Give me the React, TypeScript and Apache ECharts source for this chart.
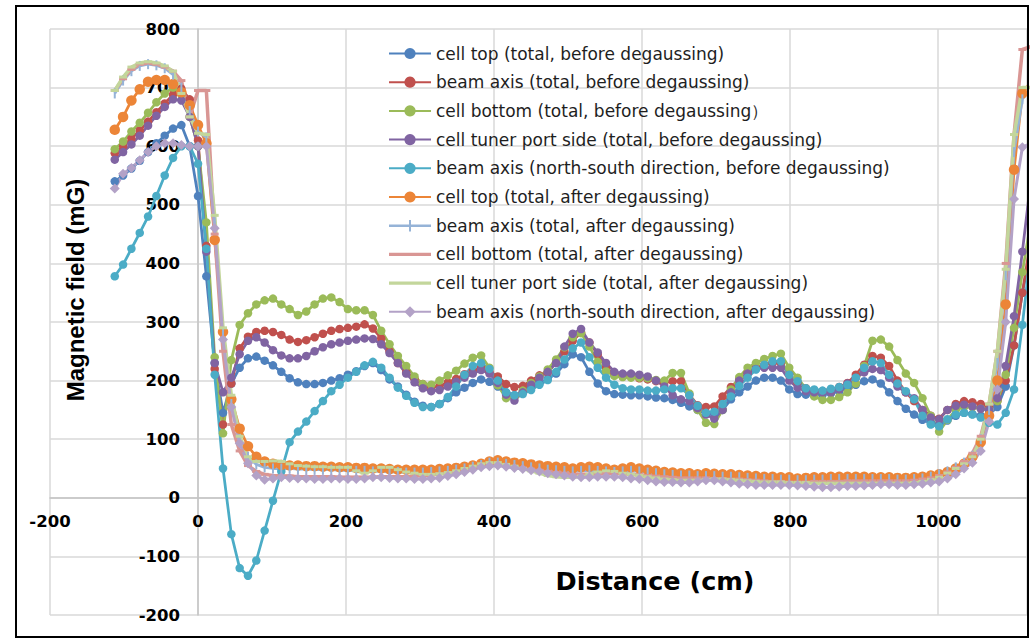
import React, { useEffect, useRef } from 'react';
import * as echarts from 'echarts';

// Distance along the cavity (cm)
const distance = [
  -112.5, -101.25, -90, -78.75, -67.5, -56.25, -45, -33.75, -22.5, -11.25,
  0, 11.25, 22.5, 33.75, 45, 56.25, 67.5, 78.75, 90, 101.25,
  112.5, 123.75, 135, 146.25, 157.5, 168.75, 180, 191.25, 202.5, 213.75,
  225, 236.25, 247.5, 258.75, 270, 281.25, 292.5, 303.75, 315, 326.25,
  337.5, 348.75, 360, 371.25, 382.5, 393.75, 405, 416.25, 427.5, 438.75,
  450, 461.25, 472.5, 483.75, 495, 506.25, 517.5, 528.75, 540, 551.25,
  562.5, 573.75, 585, 596.25, 607.5, 618.75, 630, 641.25, 652.5, 663.75,
  675, 686.25, 697.5, 708.75, 720, 731.25, 742.5, 753.75, 765, 776.25,
  787.5, 798.75, 810, 821.25, 832.5, 843.75, 855, 866.25, 877.5, 888.75,
  900, 911.25, 922.5, 933.75, 945, 956.25, 967.5, 978.75, 990, 1001.25,
  1012.5, 1023.75, 1035, 1046.25, 1057.5, 1068.75, 1080, 1091.25, 1102.5, 1113.75, 1125,
];

const cellTopBefore = [
  540, 550, 562, 575, 590, 605, 618, 630, 636, 600,
  515, 378, 230, 145, 195, 222, 238, 241, 234, 226,
  215, 204, 197, 194, 194, 196, 200, 204, 210, 216,
  225, 230, 218, 202, 190, 176, 164, 157, 155, 160,
  170, 180, 188, 196, 202, 198, 190, 180, 175, 180,
  188, 195, 203, 212, 228, 245, 240, 215, 195, 182,
  177, 176, 175, 175, 173, 171, 170, 167, 162, 156,
  150, 145, 143, 150, 168, 180, 190, 200, 205, 205,
  200, 185, 177, 176, 175, 176, 178, 182, 188, 193,
  199, 202, 195, 180, 165, 152, 142, 133, 128, 125,
  132, 140, 145, 143, 140, 142, 155, 190, 260, 350, 420,
];

const beamAxisBefore = [
  588, 600, 613, 627, 642, 658, 673, 688, 698, 680,
  610, 430, 220, 125, 195, 255, 275, 283, 285, 283,
  278, 270, 266, 269, 274, 280, 285, 288, 290, 292,
  296, 289, 272, 250, 230, 214, 203, 194, 189, 190,
  197, 203, 211, 218, 222, 215, 207, 194, 189, 191,
  200, 209, 214, 231, 250, 268, 282, 265, 245, 222,
  210, 207, 207, 204, 202, 199, 197, 199, 199, 176,
  158, 155, 156, 173, 189, 202, 213, 222, 227, 230,
  230, 210, 196, 187, 182, 182, 184, 189, 196, 210,
  227, 242, 239, 225, 200, 180, 165, 150, 140, 135,
  150, 160, 165, 163, 160, 155, 165, 200, 260, 350, 440,
];

const cellBottomBefore = [
  595, 608, 625, 640, 657, 675, 690, 700, 688, 650,
  600, 470, 240, 110, 235, 295, 315, 330, 337, 340,
  330, 322, 312, 318, 330, 340, 342, 334, 322, 320,
  320, 312, 285, 262, 242, 225, 207, 194, 193, 200,
  209, 217, 229, 239, 243, 222, 192, 170, 172, 183,
  196, 207, 219, 236, 257, 274, 281, 258, 232, 216,
  208, 206, 205, 205, 204, 201, 200, 213, 213, 178,
  150, 128, 126, 150, 185, 206, 222, 230, 237, 242,
  246, 222, 205, 186, 173, 167, 167, 172, 180, 195,
  225, 268, 270, 258, 235, 212, 196, 170, 140, 113,
  133, 150, 155, 155, 152, 150, 165, 210, 290, 385, 470,
];

const tunerSideBefore = [
  577, 590, 603, 618, 635, 652, 667, 680, 678, 650,
  600, 420, 230, 180, 205, 245, 268, 274, 265, 252,
  243, 238, 238, 242, 250, 257, 262, 265, 268, 270,
  272, 271, 262, 247, 230, 212, 197, 187, 182, 184,
  190, 198, 205, 212, 218, 212, 196, 176, 166, 180,
  193, 205, 215, 230, 258, 280, 288, 265, 248, 230,
  215, 212, 212, 210, 207, 200, 190, 175, 168, 165,
  153, 142, 135, 150, 180, 200, 212, 220, 222, 222,
  222, 200, 188, 182, 180, 180, 180, 185, 195, 205,
  214, 220, 218, 205, 190, 180, 170, 150, 137, 134,
  150, 157, 159, 156, 152, 150, 170, 225, 310, 420, 540,
];

const northSouthBefore = [
  378, 398, 425, 452, 480, 515, 550, 580, 600, 600,
  570, 425, 210, 50, -62, -120, -133, -107, -56, -5,
  45, 95, 113, 130, 148, 165, 182, 193, 205, 215,
  226, 232, 222, 205, 188, 174, 162, 155, 155, 160,
  172, 190, 210, 225, 230, 220, 200, 180, 175, 177,
  184, 193, 201, 215, 236, 255, 265, 240, 222, 205,
  193, 187, 185, 185, 183, 183, 185, 187, 187, 175,
  157, 145, 147, 160, 173, 191, 205, 219, 227, 233,
  233, 210, 199, 187, 185, 183, 186, 189, 193, 205,
  222, 233, 230, 210, 195, 182, 168, 140, 125, 122,
  134, 142, 145, 142, 137, 128, 125, 145, 185, 295, 420,
];

const cellTopAfter = [
  628, 650, 678, 697, 710, 713, 713, 706, 692, 670,
  636, 605, 440, 283, 168, 118, 88, 70, 62, 58,
  56, 55, 55, 54, 54, 53, 53, 52, 52, 51,
  51, 50, 50, 49, 48, 48, 48, 48, 48, 49,
  50, 51, 53, 55, 58, 62, 64, 62, 60, 59,
  57, 55, 54, 53, 52, 50, 52, 53, 52, 50,
  48, 50, 52, 50, 48, 46, 44, 43, 42, 42,
  40, 42, 41, 40, 40, 39, 38, 37, 36, 36,
  35, 35, 33, 34, 35, 35, 36, 36, 36, 36,
  36, 35, 35, 35, 34, 34, 35, 36, 38, 40,
  44, 50, 58, 70, 95, 140, 200, 330, 560, 690, 710,
];

const beamAxisAfter = [
  690, 712, 728, 737, 740, 738, 733, 722, 700, 660,
  625, 615, 470, 280, 160, 100, 70, 57, 52, 50,
  50, 50, 49, 49, 48, 48, 48, 47, 47, 46,
  46, 45, 45, 44, 44, 43, 43, 43, 44, 45,
  46, 48, 50, 53, 56, 60, 60, 58, 56, 54,
  52, 50, 48, 47, 46, 45, 46, 47, 46, 45,
  44, 45, 46, 45, 43, 42, 40, 39, 38, 38,
  37, 37, 37, 36, 36, 35, 34, 33, 32, 32,
  31, 31, 30, 30, 31, 31, 32, 32, 32, 32,
  32, 32, 32, 32, 31, 31, 32, 33, 36, 40,
  45, 52, 60, 72, 100, 150, 230, 380, 590, 680, 700,
];

const cellBottomAfter = [
  695, 715, 731, 740, 742, 740, 735, 728, 712, 650,
  695, 695, 450, 250, 125, 80, 55, 45, 40, 38,
  37, 37, 36, 36, 36, 36, 36, 35, 35, 35,
  35, 35, 36, 36, 36, 36, 37, 38, 39, 41,
  43, 45, 48, 52, 56, 58, 57, 55, 53, 51,
  49, 47, 45, 43, 42, 40, 40, 40, 41, 42,
  42, 41, 40, 39, 38, 37, 36, 35, 34, 34,
  34, 34, 33, 33, 32, 32, 31, 30, 29, 28,
  28, 27, 27, 27, 28, 28, 28, 28, 29, 29,
  29, 29, 29, 29, 29, 29, 30, 32, 34, 38,
  44, 52, 62, 76, 105, 160, 250, 400, 620, 765, 770,
];

const tunerSideAfter = [
  695, 718, 735, 742, 744, 742, 737, 728, 690, 650,
  622, 620, 482, 290, 175, 105, 70, 62, 62, 63,
  62, 58, 55, 54, 53, 53, 52, 52, 52, 46,
  42, 46, 52, 52, 48, 44, 42, 40, 40, 41,
  43, 46, 50, 54, 58, 60, 60, 57, 54, 50,
  46, 42, 38, 36, 35, 35, 37, 40, 44, 46,
  45, 42, 40, 38, 36, 34, 32, 31, 30, 30,
  30, 31, 32, 32, 31, 30, 29, 28, 27, 27,
  27, 26, 26, 26, 25, 25, 25, 25, 25, 25,
  25, 25, 25, 25, 25, 25, 26, 28, 31, 35,
  42, 50, 58, 70, 100, 160, 250, 390, 620, 700, 700,
];

const northSouthAfter = [
  528, 553, 563, 576, 590, 600, 605, 605, 602, 600,
  600, 600, 460, 270, 155, 93, 59, 38, 31, 33,
  35, 34, 33, 33, 32, 32, 33, 33, 32, 32,
  33, 35, 35, 34, 33, 33, 32, 32, 33, 34,
  37, 40, 44, 48, 52, 54, 55, 53, 51, 49,
  47, 45, 42, 40, 38, 36, 35, 35, 36, 36,
  36, 35, 33, 32, 30, 28, 27, 27, 26, 26,
  28, 30, 30, 28, 26, 24, 23, 22, 22, 22,
  22, 22, 21, 20, 19, 18, 18, 19, 20, 20,
  21, 22, 23, 23, 22, 22, 23, 24, 26, 28,
  33, 40, 50, 60, 80, 130, 185, 300, 510, 598, 605,
];

const seriesNames = [
  'cell top (total, before degaussing)',
  'beam axis (total, before degaussing)',
  'cell bottom (total, before degaussing\uFF09',
  'cell tuner port side (total, before degaussing)',
  'beam axis (north-south direction, before degaussing)',
  'cell top (total, after degaussing)',
  'beam axis (total, after degaussing)',
  'cell bottom (total, after degaussing)',
  'cell tuner port side (total, after degaussing)',
  'beam axis (north-south direction, after degaussing)',
];

const xTitle = 'Distance (cm)';
const yTitle = 'Magnetic field (mG)';

export default function App() {
  const ref = useRef<HTMLDivElement>(null);

  useEffect(() => {
    if (!ref.current) return;
    const chart = echarts.init(ref.current, null, { renderer: 'svg' });
    const wide = '"DejaVu Sans", Verdana, sans-serif';
    const arial = 'Arial, "Liberation Sans", sans-serif';
    const pair = (ys: number[]) => distance.map((x, i) => [x, ys[i]]);

    const mk = (
      name: string,
      ys: number[],
      color: string,
      symbol: string,
      symbolSize: number | number[],
      width: number
    ) => ({
      type: 'line',
      name,
      data: pair(ys),
      symbol,
      symbolSize,
      showSymbol: true,
      lineStyle: { color, width },
      itemStyle: { color, borderWidth: 0 },
      emphasis: { disabled: true },
      clip: true,
    });

    const series = [
      mk(seriesNames[0], cellTopBefore, '#4F81BD', 'circle', 8.5, 2.75),
      mk(seriesNames[1], beamAxisBefore, '#C0504D', 'circle', 8.5, 2.75),
      mk(seriesNames[2], cellBottomBefore, '#9BBB59', 'circle', 8.5, 2.75),
      mk(seriesNames[3], tunerSideBefore, '#8064A2', 'circle', 8.5, 2.75),
      mk(seriesNames[4], northSouthBefore, '#4BACC6', 'circle', 8.5, 2.75),
      mk(seriesNames[5], cellTopAfter, '#EC8537', 'circle', 10.5, 2.75),
      mk(seriesNames[6], beamAxisAfter, '#95B3D7', 'rect', [2, 10], 2.75),
      mk(seriesNames[7], cellBottomAfter, '#D99694', 'rect', [8, 3], 3.5),
      mk(seriesNames[8], tunerSideAfter, '#C3D69B', 'rect', [8, 3], 3.5),
      mk(seriesNames[9], northSouthAfter, '#B3A2C7', 'diamond', 10, 3),
    ];

    const plusIcon = 'path://M0,6 L42,6 L42,8.5 L0,8.5 Z M20,1.5 L22,1.5 L22,13 L20,13 Z';
    const lineIcon = 'path://M0,0 L42,0 L42,3.2 L0,3.2 Z';

    const legendData = seriesNames.map((name, i) => {
      if (i === 6) return { name, icon: plusIcon };
      if (i === 7 || i === 8) return { name, icon: lineIcon };
      return { name };
    });

    chart.setOption({
      animation: false,
      backgroundColor: '#ffffff',
      textStyle: { fontFamily: wide },
      grid: {
        left: 50,
        top: 29,
        width: 977,
        height: 586,
        containLabel: false,
        outerBoundsMode: 'none',
      },
      legend: {
        orient: 'vertical',
        left: 383,
        top: 40,
        padding: 5,
        itemWidth: 42,
        itemHeight: 14,
        itemGap: 11.7,
        data: legendData,
        textStyle: { fontSize: 17, lineHeight: 17, color: '#1e1e1e', fontFamily: wide },
        selectedMode: false,
      },
      xAxis: {
        type: 'value',
        min: -200,
        max: 1120,
        interval: 200,
        position: 'bottom',
        offset: -117.2,
        axisLine: { show: true, onZero: false, lineStyle: { color: '#c4c4c4', width: 1.5 } },
        axisTick: { show: false },
        axisLabel: {
          fontSize: 16.5,
          fontWeight: 'bold',
          color: '#000',
          margin: 15,
          showMaxLabel: false,
          hideOverlap: false,
          fontFamily: wide,
          formatter: (v: number) => String(v),
        },
        splitLine: { show: true, lineStyle: { color: '#d9d9d9', width: 1.5 } },
      },
      yAxis: {
        type: 'value',
        min: -200,
        max: 800,
        interval: 100,
        position: 'left',
        offset: -148,
        axisLine: { show: true, onZero: false, lineStyle: { color: '#c4c4c4', width: 1.5 } },
        axisTick: { show: false },
        axisLabel: {
          fontSize: 16.5,
          fontWeight: 'bold',
          color: '#000',
          margin: 18,
          hideOverlap: false,
          fontFamily: wide,
          formatter: (v: number) => String(v),
        },
        splitLine: { show: true, lineStyle: { color: '#d9d9d9', width: 1.5 } },
      },
      graphic: [
        {
          type: 'text',
          x: 75,
          y: 290,
          rotation: Math.PI / 2,
          z: 100,
          style: {
            text: yTitle,
            fill: '#000',
            font: `bold 24px ${arial}`,
            textAlign: 'center',
            textVerticalAlign: 'middle',
            align: 'center',
            verticalAlign: 'middle',
          },
        },
        {
          type: 'text',
          x: 655,
          y: 581,
          z: 100,
          style: {
            text: xTitle,
            fill: '#000',
            font: `bold 25.5px ${wide}`,
            textAlign: 'center',
            textVerticalAlign: 'middle',
            align: 'center',
            verticalAlign: 'middle',
          },
        },
        {
          type: 'rect',
          z: 100,
          shape: { x: 16, y: 6, width: 1012, height: 631 },
          style: { fill: 'none', stroke: '#000', lineWidth: 2 },
        },
      ],
      series,
    });

    return () => chart.dispose();
  }, []);

  return (
    <div
      ref={ref}
      style={{ position: 'fixed', left: 0, top: 0, width: 1030, height: 640, background: '#fff' }}
    />
  );
}
